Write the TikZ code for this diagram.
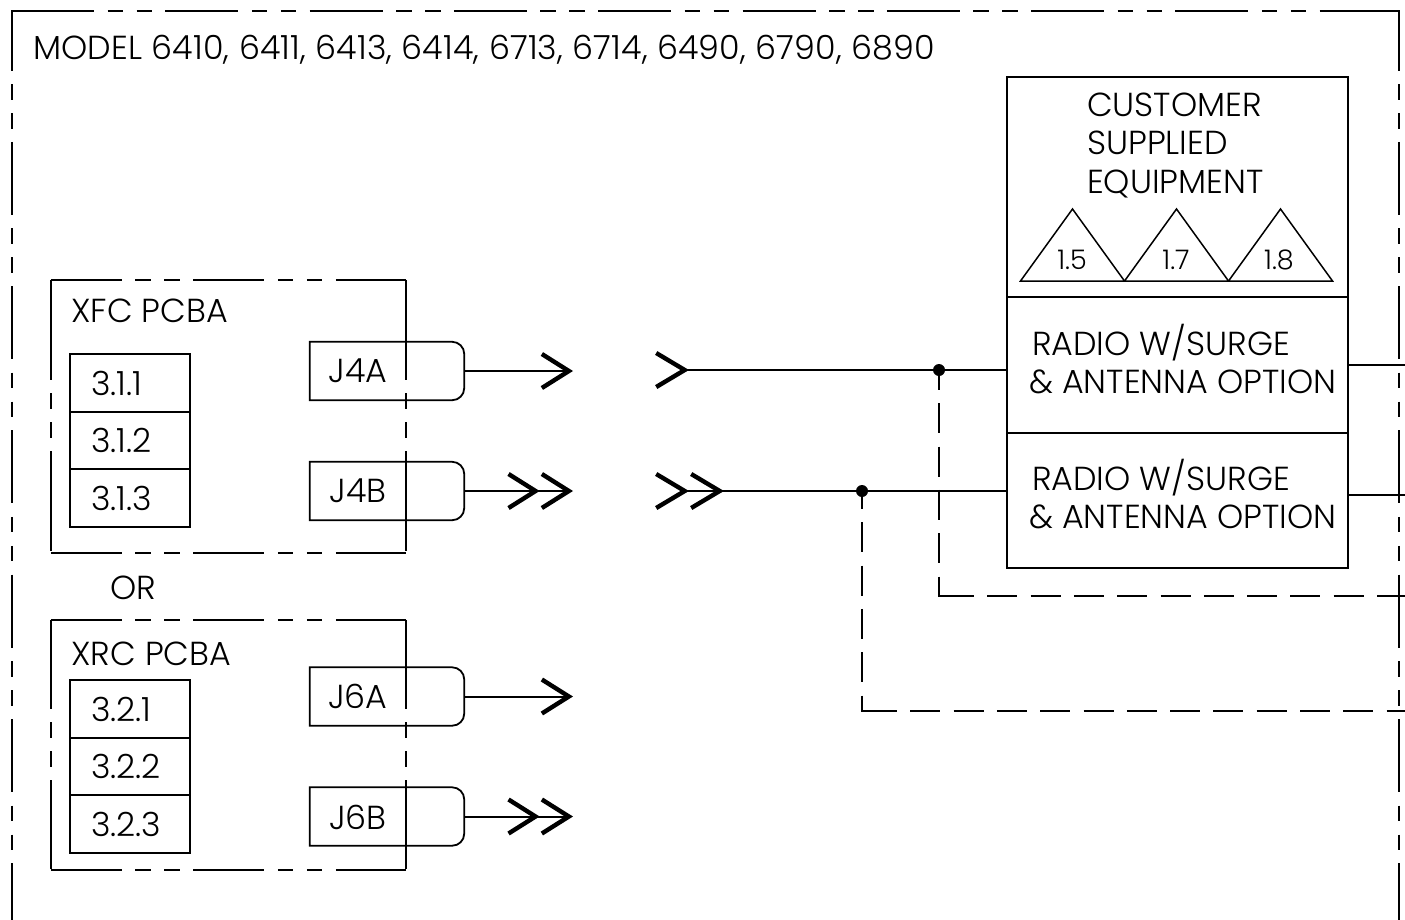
\documentclass[tikz,border=0pt]{standalone}
\usepackage{fontspec}
\setmainfont{Poppins Light}
\usetikzlibrary{arrows.meta, shapes.geometric}
\tikzset{
    txtlabel/.style={inner sep=0pt, font=\fontsize{33.3}{38.5}\selectfont, align=left},
    smalllabel/.style={inner sep=0pt, font=\fontsize{27}{30}\selectfont},
    stackbox/.style={draw, line width=1.8pt, inner ysep=0pt, inner xsep=21pt, text width=78pt, align=left, minimum height=57.5pt, font=\fontsize{33.3}{38.5}\selectfont},
    unitbox/.style={draw, line width=2pt, inner sep=0pt, minimum width=341pt},
    portbox/.style={inner sep=0pt, minimum width=154pt, minimum height=58pt},
    pcbbox/.style={inner sep=0pt, minimum width=355pt},
    triangle/.style={draw, line width=1.5pt, isosceles triangle, isosceles triangle stretches, shape border rotate=90, inner sep=0pt, outer sep=0pt, minimum width=104pt, minimum height=72pt, anchor=apex},
    portline/.style={line width=1.8pt},
    wire/.style={line width=2pt},
    pcbh/.style={line width=1.8pt, dash pattern=on 71pt off 13.5pt on 15.5pt off 13.5pt on 15.5pt off 13.5pt},
    framedash/.style={line width=2pt, dash pattern=on 73pt off 13.5pt on 15.5pt off 13.5pt on 15.5pt off 13.3pt},
    buswire/.style={line width=1.8pt, dash pattern=on 30pt off 13.3pt},
    junction/.style={circle, fill=black, inner sep=0pt, minimum size=12pt},
    chevronone/.style={-{Straight Barb[length=27pt,width=34pt,line width=4.4pt]}, line width=2pt},
    chevrontwo/.style={-{Straight Barb[length=27pt,width=34pt,line width=4.4pt] Straight Barb[length=27pt,width=34pt,line width=4.4pt]}, line width=2pt},
    tailone/.style={{Straight Barb[reversed,length=28.5pt,width=34pt,line width=4.4pt]}-, line width=2pt},
    tailtwo/.style={{Straight Barb[reversed,length=28.5pt,width=34pt,line width=4.4pt] Straight Barb[reversed,length=28.5pt,width=34pt,line width=4.4pt]}-, line width=2pt}
}
\begin{document}
\begin{tikzpicture}[x=1pt, y=-1pt]
    \useasboundingbox (0,0) rectangle (1405,919);

    % Outer frame
    \coordinate (frameTLa) at (21,10.5);
    \coordinate (frameTRa) at (1390,10.5);
    \coordinate (frameTL) at (12,10.5);
    \coordinate (frameTR) at (1399,10.5);
    \coordinate (frameBL) at (12,925);
    \coordinate (frameBR) at (1399,925);
    \draw[framedash] (frameTLa) -- (frameTRa);
    \draw[framedash, dash phase=4pt] (frameTLa) -- (frameTL) -- (frameBL);
    \draw[framedash, dash phase=4pt] (frameTRa) -- (frameTR) -- (frameBR);
    \node[txtlabel, anchor=west] (model) at (33,50) {\addfontfeature{LetterSpace=0.5}MODEL 6410, 6411, 6413, 6414, 6713, 6714, 6490, 6790, 6890};

    % XFC board
    \node[pcbbox, minimum height=273pt] (xfc) at (228.5,416.5) {};
    \draw[pcbh] (xfc.north west) -- (xfc.north east);
    \draw[pcbh] (xfc.south west) -- (xfc.south east);
    \draw[line width=1.8pt, dash pattern=on 100pt off 13.5pt on 15.5pt off 13.5pt on 15.5pt off 13.5pt] (xfc.north west) -- (xfc.south west);
    \draw[line width=1.8pt, dash pattern=on 100pt off 13.5pt on 15.5pt off 13.5pt on 15.5pt off 13.5pt] (xfc.north east) -- (xfc.south east);
    \node[txtlabel, anchor=west] (xfclabel) at (71,311) {XFC PCBA};
    \node[stackbox] (s311) at (130,383) {3.1.1};
    \node[stackbox] (s312) at (130,440.5) {3.1.2};
    \node[stackbox] (s313) at (130,498) {3.1.3};

    % XRC board
    \node[txtlabel] (orlabel) at (133,588) {OR};
    \node[pcbbox, minimum height=250pt] (xrc) at (228.5,745) {};
    \draw[pcbh] (xrc.north west) -- (xrc.north east);
    \draw[pcbh] (xrc.south west) -- (xrc.south east);
    \draw[line width=1.8pt, dash pattern=on 89pt off 13.5pt on 15.5pt off 13.5pt on 15.5pt off 13.5pt] (xrc.north west) -- (xrc.south west);
    \draw[line width=1.8pt, dash pattern=on 89pt off 13.5pt on 15.5pt off 13.5pt on 15.5pt off 13.5pt] (xrc.north east) -- (xrc.south east);
    \node[txtlabel, anchor=west] (xrclabel) at (71,654) {XRC PCBA};
    \node[stackbox] (s321) at (130,709) {3.2.1};
    \node[stackbox] (s322) at (130,766.5) {3.2.2};
    \node[stackbox] (s323) at (130,824) {3.2.3};

    % Ports
    \node[portbox] (j4a) at (387,371) {};
    \node[portbox] (j4b) at (387,491) {};
    \node[portbox] (j6a) at (387,696.5) {};
    \node[portbox] (j6b) at (387,816.5) {};
    \draw[portline] (j4a.south west) -- (j4a.north west) [rounded corners=12pt] -- (j4a.north east) -- (j4a.south east) [sharp corners] -- cycle;
    \draw[portline] (j4b.south west) -- (j4b.north west) [rounded corners=12pt] -- (j4b.north east) -- (j4b.south east) [sharp corners] -- cycle;
    \draw[portline] (j6a.south west) -- (j6a.north west) [rounded corners=12pt] -- (j6a.north east) -- (j6a.south east) [sharp corners] -- cycle;
    \draw[portline] (j6b.south west) -- (j6b.north west) [rounded corners=12pt] -- (j6b.north east) -- (j6b.south east) [sharp corners] -- cycle;
    \node[txtlabel] (j4alabel) at (358,371) {J4A};
    \node[txtlabel] (j4blabel) at (358,491) {J4B};
    \node[txtlabel] (j6alabel) at (358,696) {J6A};
    \node[txtlabel] (j6blabel) at (358,817) {J6B};

    % Arrows out of the ports
    \coordinate (tip4a) at (573,371);
    \coordinate (tip4b) at (573,491);
    \coordinate (tip6a) at (573,696.5);
    \coordinate (tip6b) at (573,816.5);
    \draw[chevronone] (j4a.east) -- (tip4a);
    \draw[chevrontwo] (j4b.east) -- (tip4b);
    \draw[chevronone] (j6a.east) -- (tip6a);
    \draw[chevrontwo] (j6b.east) -- (tip6b);

    % Customer equipment
    \node[unitbox, minimum height=220pt] (customer) at (1177.5,187) {};
    \node[unitbox, minimum height=136pt] (radioa) at (1177.5,365) {};
    \node[unitbox, minimum height=135pt] (radiob) at (1177.5,500.5) {};
    \node[txtlabel, anchor=west] (customerlabel) at (1087,145.5) {CUSTOMER\\SUPPLIED\\EQUIPMENT};
    \node[triangle] (tria) at (1072.5,209) {};
    \node[triangle] (trib) at (1176.5,209) {};
    \node[triangle] (tric) at (1280.5,209) {};
    \node[smalllabel] (trialabel) at (1072,260) {1.5};
    \node[smalllabel] (triblabel) at (1176,260) {1.7};
    \node[smalllabel] (triclabel) at (1279,260) {1.8};
    \node[txtlabel, anchor=west] (radioalabel) at (1029,359) {\hspace*{3pt}RADIO W/SURGE\\\& ANTENNA OPTION};
    \node[txtlabel, anchor=west] (radioblabel) at (1029,494) {\hspace*{3pt}RADIO W/SURGE\\\& ANTENNA OPTION};

    % Incoming lines
    \coordinate (inA) at (654,370);
    \coordinate (inB) at (654,491);
    \coordinate (radioain) at (radioa.west |- inA);
    \coordinate (radiobin) at (radiob.west |- inB);
    \draw[tailone] (inA) -- (radioain);
    \draw[tailtwo] (inB) -- (radiobin);
    \node[junction] (dota) at (939,370) {};
    \node[junction] (dotb) at (862,491) {};

    % Dashed branches
    \coordinate (busa) at (939,596);
    \coordinate (busb) at (862,711);
    \coordinate (busastart) at (944,596);
    \coordinate (busbstart) at (867,711);
    \coordinate (busaend) at (1405,596);
    \coordinate (busbend) at (1405,711);
    \draw[buswire, dash phase=10pt] (dota.center) -- (busa) -- (busastart);
    \draw[buswire] (busastart) -- (busaend);
    \draw[buswire, dash phase=12pt] (dotb.center) -- (busb) -- (busbstart);
    \draw[buswire] (busbstart) -- (busbend);

    % Outgoing stubs
    \coordinate (outa) at (1405,365);
    \coordinate (outbb) at (1405,495);
    \coordinate (radiobout) at (1348,495);
    \draw[wire] (radioa.east) -- (outa);
    \draw[wire] (radiobout) -- (outbb);
\end{tikzpicture}
\end{document}
